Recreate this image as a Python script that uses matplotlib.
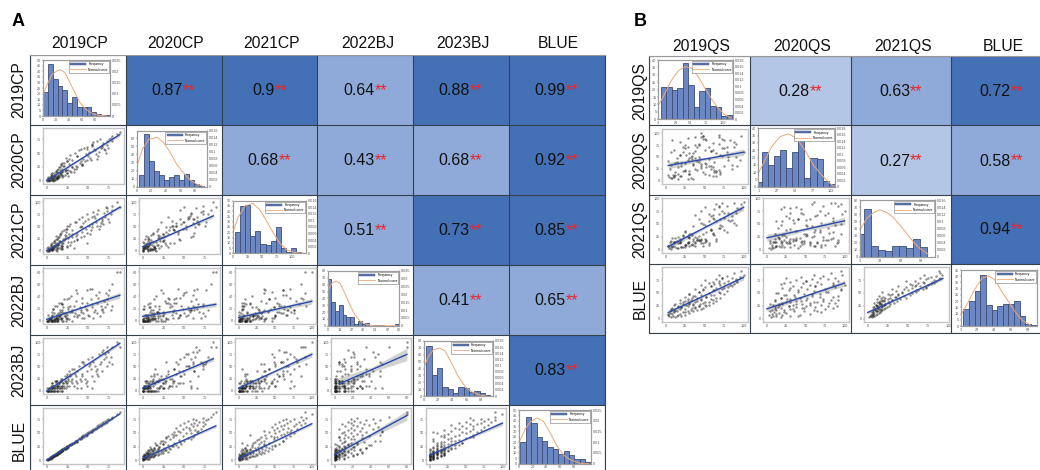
import matplotlib
matplotlib.use('Agg')
import matplotlib.pyplot as plt
import numpy as np
from matplotlib.colors import ListedColormap, BoundaryNorm
from matplotlib.lines import Line2D
from matplotlib.patches import Patch

plt.rcParams['font.family'] = ['Liberation Sans', 'DejaVu Sans']

W, H = 1040, 470

# correlation tables, None = plot cell
names_a = ['2019CP', '2020CP', '2021CP', '2022BJ', '2023BJ', 'BLUE']
names_b = ['2019QS', '2020QS', '2021QS', 'BLUE']
r_a = [[None, 0.87, 0.9, 0.64, 0.88, 0.99],
       [None, None, 0.68, 0.43, 0.68, 0.92],
       [None, None, None, 0.51, 0.73, 0.85],
       [None, None, None, None, 0.41, 0.65],
       [None, None, None, None, None, 0.83],
       [None, None, None, None, None, None]]
r_b = [[None, 0.28, 0.63, 0.72],
       [None, None, 0.27, 0.58],
       [None, None, None, 0.94],
       [None, None, None, None]]

# values per genotype
cp19 = [0,2,1,3,2,4,5,3,6,4, 7,5,8,6,9,6,7,10,8,11, 9,12,11,10,13,11,14,12,15,13,
        16,14,17,15,18,16,19,17,20,18, 22,19,23,21,24,23,26,25,29,27, 30,28,33,31,35,34,37,36,40,39,
        42,41,45,43,47,44,49,46,51,48, 53,50,55,52,57,54,59,56,61,58, 63,60,65,62,67,64,69,66,71,68,
        73,70,75,72,77,74,79,78,85,88,
        3,2,5,6,5,8,6,9,10,9, 12,10,13,12,14,15,14,16,17,16, 19,17,20,19,22,21,24,23,26,25, 28,27,31,33,36,35,41,43,48,54]
cp20 = [0,1,3,0,5,2,8,1,4,7, 2,12,3,9,1,14,5,10,2,18, 6,3,15,8,20,4,11,7,25,5,
        13,9,30,6,22,12,17,28,8,15, 10,33,19,26,14,42,20,35,16,30, 24,46,21,38,27,50,25,44,33,55,
        28,36,60,31,48,40,62,35,52,58, 38,45,66,42,57,63,48,70,40,56, 52,72,60,45,65,75,58,62,50,68,
        72,55,76,64,78,60,73,82,85,88,
        1,6,2,9,4,0,11,6,3,14, 7,2,16,5,22,9,4,19,11,24, 7,13,27,10,18,32,14,20,9,36, 17,40,24,15,45,22,58,28,38,65]
cp21 = [0,2,5,1,8,3,12,0,6,2, 15,4,10,1,18,7,3,22,5,12, 9,25,2,16,6,30,11,4,20,8,
        35,14,7,28,10,18,40,12,24,6, 32,15,45,22,9,38,26,50,18,34, 28,55,20,42,30,60,35,25,48,65,
        38,52,30,70,44,58,36,62,50,75, 42,66,55,35,72,48,60,80,52,68, 45,76,58,85,62,50,78,66,90,55,
        82,70,60,88,75,65,92,85,100,90,
        5,0,10,2,14,6,1,20,9,3, 24,7,0,16,28,5,12,32,3,20, 10,36,15,4,26,42,8,30,18,45, 12,50,34,5,22,60,28,48,16,70]
bj22 = [0,0,0,2,0,5,1,0,10,2, 0,5,0,15,1,8,0,3,20,5, 0,10,2,0,25,5,12,1,8,0,
        18,3,30,6,0,10,15,2,22,5, 8,28,0,12,35,5,20,10,40,3, 15,25,8,18,32,12,45,6,22,10,
        30,15,5,38,20,12,50,25,8,18, 35,10,28,52,15,22,42,5,30,18, 48,12,25,38,20,8,32,18,45,15,
        28,22,50,35,18,42,25,60,80,80,
        2,10,0,0,5,20,1,3,0,12, 5,25,0,8,2,30,0,15,5,10, 28,3,0,18,8,35,2,12,22,5, 15,38,0,25,10,50,18,5,30,52]
bj23 = [0,0,5,0,0,5,0,5,10,0, 5,0,10,5,0,15,5,0,10,20, 5,0,15,10,5,20,0,10,15,5,
        20,10,5,15,25,10,5,20,15,0, 30,10,20,5,35,15,25,10,20,40, 15,30,10,45,20,35,5,40,25,50,
        30,20,55,35,15,60,40,25,50,10, 45,65,30,55,20,70,40,60,35,50, 75,45,60,30,80,55,65,40,70,85,
        50,75,60,90,70,80,55,90,100,90,
        5,0,10,0,5,0,15,5,20,0, 10,5,0,20,10,5,15,0,20,5, 10,25,15,0,20,10,30,5,20,15, 35,10,25,45,15,30,5,60,20,5]
blue_a = [1,1,2,2,3,3,3,4,4,5, 5,6,6,6,7,7,8,8,9,9, 10,10,10,11,11,12,12,13,13,14,
          14,15,15,16,16,17,17,18,19,19, 20,21,21,22,23,24,25,26,27,28, 29,30,31,32,33,35,36,37,38,40,
          41,42,43,44,45,46,47,48,49,50, 51,52,53,54,55,56,57,58,59,60, 61,62,63,64,65,66,67,68,69,70,
          71,72,73,74,75,76,78,80,84,88,
          2,3,4,5,6,7,7,8,9,10, 11,11,12,13,13,14,15,15,16,17, 18,18,19,20,21,22,23,24,25,26, 27,28,30,32,34,36,39,42,46,52]
qs19 = [6,12,4,20,9,15,3,25,8,18, 30,5,22,10,35,14,28,7,40,12, 25,45,18,33,8,48,20,38,15,52,
        28,42,10,35,55,22,44,30,60,18, 38,50,25,65,32,45,58,28,70,40, 52,35,62,45,75,30,55,68,42,78,
        48,60,72,38,65,80,50,58,85,45, 70,62,88,55,75,92,60,68,80,50, 90,65,85,72,95,78,68,100,88,96,
        14,3,25,10,32,6,38,20,42,15, 50,26,35,12,48,30,22,55,40,28, 60,18,45,34,65,24,52,38,58,30, 70,42,62,48,75,58,82,68,90,72]
qs20 = [5,18,8,30,12,3,42,20,6,55, 15,25,70,9,35,48,4,60,22,12, 75,30,10,45,85,18,38,62,14,28,
        90,50,8,33,70,20,45,15,80,55, 25,65,38,10,50,92,30,72,18,42, 85,58,22,35,68,48,12,78,40,60,
        95,28,52,75,20,44,88,62,34,100, 55,18,70,46,85,30,65,92,50,38, 78,58,25,88,44,72,96,60,82,95,
        40,12,22,65,6,33,48,10,78,28, 15,55,4,38,88,20,60,30,72,44, 10,82,26,52,18,68,36,92,24,58, 14,76,40,95,30,62,85,22,50,68]
qs21 = [2,5,3,6,8,4,7,10,5,12, 8,14,6,15,10,16,12,7,18,14, 9,20,15,11,22,13,18,8,24,16,
        12,26,14,20,10,28,17,22,32,15, 25,14,36,20,30,18,40,25,48,22, 35,45,28,52,38,30,55,42,60,35,
        50,62,45,68,55,72,48,65,58,75, 60,78,52,70,62,80,68,85,58,82, 72,88,65,90,78,85,70,92,90,88,
        4,7,5,12,9,16,13,6,18,12, 20,10,16,22,8,14,26,12,18,15, 30,20,12,28,16,34,19,14,38,25, 42,18,60,30,72,38,55,82,48,75]
blue_b = [3,4,5,5,6,7,8,8,9,10, 11,11,12,13,14,14,15,16,16,17, 18,18,19,20,20,21,22,22,23,24,
          24,25,26,26,27,28,28,29,30,31, 32,33,34,35,36,37,38,39,40,41, 42,44,45,46,47,48,50,51,52,54,
          55,56,57,58,60,61,62,63,64,65, 66,67,68,69,70,71,72,73,74,75, 76,77,78,79,80,82,84,85,88,92,
          6,9,12,14,16,18,20,22,24,25, 26,27,28,29,30,31,32,33,34,35, 36,37,38,40,41,42,43,44,46,48, 50,52,55,58,60,63,66,70,74,78]

traits_a = [cp19, cp20, cp21, bj22, bj23, blue_a]
traits_b = [qs19, qs20, qs21, blue_b]
ticks_a = [[0,25,50,75], [0,25,50,75], [0,25,50,75,100], [0,20,40,60,80], [0,25,50,75,100], [0,25,50,75]]
ticks_b = [[0,25,50,75,100], [0,25,50,75,100], [0,25,50,75,100], [0,25,50,75]]

# fit lines: row, col, x0, y0, x1, y1, half width of grey band at the ends
lines_a = [(1,0, 0,0, 88,84, 3), (2,0, 0,0, 88,90, 3), (2,1, 0,8, 85,72, 4),
           (3,0, 0,2, 88,42, 5), (3,1, 0,7, 88,27, 4), (3,2, 0,5, 100,32, 5),
           (4,0, 0,-1, 88,98, 4), (4,1, 0,5, 85,66, 5), (4,2, 0,5, 100,75, 6), (4,3, 5,14, 80,75, 13),
           (5,0, 0,0, 88,85, 1), (5,1, 0,3, 88,63, 3), (5,2, 0,3, 100,67, 3), (5,3, 0,10, 80,82, 9), (5,4, 0,9, 100,68, 4)]
lines_b = [(1,0, 3,32, 100,60, 7), (2,0, 3,6, 100,82, 6), (2,1, 0,23, 100,56, 7),
           (3,0, 3,12, 100,80, 5), (3,1, 0,19, 100,69, 6), (3,2, 0,12, 93,78, 3)]

# histograms: counts per bar, then the normal curve as read (x, density)
h1_counts = [21,46,33,27,23,12,17,8,8,8,4,2,1,1]
h1_cx = [0,6.6,14,21.8,26.8,34.4,42,49.6,57,64.8,72.4,82.5,97.7]
h1_cy = [.009,.0139,.0184,.0202,.0207,.0192,.0147,.0102,.006,.0034,.0016,.0005,0]
h2_counts = [14,65,32,20,15,8,12,14,8,16,8,3,1]
h2_cx = [0,7.6,16.6,28,37,46,55,64,73,82,90.9]
h2_cy = [.0058,.0107,.0136,.0142,.0126,.0097,.0063,.0039,.0019,.0007,.0001]
h3_counts = [20,45,46,16,21,9,8,12,25,5,1,5,1]
h3_cx = [0,9.6,21,34,46,58,69,80,92,106,120]
h3_cy = [.0063,.0111,.0144,.0152,.0132,.0096,.0061,.003,.001,.0002,0]
h4_counts = [69,35,22,30,15,12,12,2,7,2,4,0,1,1,1,0,0,0,2]
h4_cx = [0,4.5,9.3,13.8,19.3,24.9,30.5,36.1,41.6,50.9,77]
h4_cy = [.0218,.0271,.0286,.0271,.0207,.0132,.0068,.003,.0011,0,0]
h5_counts = [73,30,41,13,10,4,13,11,6,8,5,1]
h5_cx = [0,6.7,14.5,23.8,32.6,43,53.4,63.7,74,87,97.4]
h5_cy = [.0094,.0129,.0151,.0157,.0148,.0107,.0063,.0031,.0014,.0003,0]
h6_counts = [20,43,38,25,21,15,14,9,12,8,4,4,1]
h6_cx = [.5,8.8,16,25.9,35.6,45.4,55,64.9,74.6,89.3,101.5]
h6_cy = [.01,.016,.0193,.0213,.0198,.0145,.0085,.004,.0018,.0001,0]
h7_counts = [22,22,20,21,38,23,8,19,21,9,8,2,3]
h7_cx = [3,13,23,33,43,53,63,73,83,93,103,113]
h7_cy = [.0041,.0079,.0119,.0147,.016,.0155,.0129,.0094,.0061,.0033,.0013,.0003]
h8_counts = [3,24,15,21,25,13,24,37,6,20,19,4,2]
h8_cx = [1,10.3,19.6,31.2,42.9,54.5,66.1,77.7,89.4,101,105.7]
h8_cy = [.0041,.0082,.0123,.0154,.0163,.0149,.0113,.0067,.0036,.001,.0003]
h9_counts = [32,68,16,10,8,16,15,12,25,14]
h9_cx = [3,12.8,22.5,32.3,42,51.8,61.5,71.3,81,90.8,103]
h9_cy = [.0076,.0109,.0125,.0133,.0126,.0112,.009,.0067,.0043,.0024,.0008]
h10_counts = [14,20,28,41,17,13,16,18,18,20,8,2,1]
h10_cx = [3,10.2,18.2,28.2,36.2,44.2,52.2,60.2,68.2,76.2,86.2]
h10_cy = [.0039,.0075,.0123,.017,.0179,.0164,.0123,.0087,.0051,.0021,.0004]


def px(l, t, r, b):
    return [l / W, 1 - b / H, (r - l) / W, (b - t) / H]


def small_ticks(ax):
    ax.tick_params(labelsize=2.7, length=0.8, width=0.3, pad=0.5, colors='#555555')


def heat(xe, ye, rows):
    ax = fig.add_axes(px(xe[0], ye[0], xe[-1], ye[-1]))
    vals = np.array([[np.nan if v is None else v for v in row] for row in rows])
    cmap = ListedColormap(['#B4C6E6', '#8FAAD8', '#4470B6'])
    norm = BoundaryNorm([0, 0.4, 0.7, 1], 3)
    ax.pcolormesh(np.arange(len(rows) + 1), np.arange(len(rows) + 1), vals, cmap=cmap, norm=norm)
    ax.set_xlim(0, len(rows))
    ax.set_ylim(len(rows), 0)
    ax.set_xticks(range(len(rows) + 1))
    ax.set_yticks(range(len(rows) + 1))
    ax.grid(True, color='#37414E', lw=0.8)
    ax.tick_params(length=0, labelbottom=False, labelleft=False)
    for s in ax.spines.values():
        s.set_color('#37414E')
        s.set_linewidth(0.8)
    ax.spines['top'].set_color('#999999')
    for i, row in enumerate(rows):
        for j, v in enumerate(row):
            if v is None:
                continue
            cx = (xe[j] + xe[j + 1]) / 2
            cy = (ye[i] + ye[i + 1]) / 2
            t = fig.text((cx - 6.5) / W, 1 - (cy + 0.5) / H, f'{v:g}', fontsize=11.5, color='#111111',
                         ha='center', va='center', zorder=10)
            ax.annotate('**', xy=(1, 0), xycoords=t, ha='left', va='bottom', fontsize=11.5,
                        color='#E8262D', annotation_clip=False, zorder=11)


def scatter_panel(rect, xv, yv, xt, yt, line):
    ax = fig.add_axes(px(*rect))
    x0, y0, x1, y1, band = line
    mid = (x0 + x1) / 2
    xs = [x0, mid, x1]
    ys = [y0, (y0 + y1) / 2, y1]
    half = [band, band * 0.4, band]
    ax.fill_between(xs, np.array(ys) - half, np.array(ys) + half, color='#D2D2D2', lw=0, zorder=1)
    ax.scatter(xv, yv, s=3.0, color='#1C1C1C', alpha=0.5, lw=0, zorder=2)
    ax.plot([x0, x1], [y0, y1], color='#2B4BAA', lw=1.0, zorder=3)
    ax.set_xlim(-0.05 * max(xv), 1.05 * max(xv))
    ax.set_ylim(-0.07 * max(yv), 1.1 * max(yv))
    ax.set_xticks(xt)
    ax.set_yticks(yt)
    small_ticks(ax)
    for s in ax.spines.values():
        s.set_color('#C4C4C4')
        s.set_linewidth(1.0)


def hist_panel(rect, counts, start, width, xlim, xt, ymax, ystep, rmax, rstep, cx, cy, right_labels=True):
    ax = fig.add_axes(px(*rect))
    lefts = [start + k * width for k in range(len(counts))]
    ax.bar(lefts, counts, width=width, align='edge', color='#6C88C4', edgecolor='#3D4C73', lw=0.6)
    ax.set_ylim(0, ymax)
    ax.set_xticks(xt)
    ax.set_yticks(np.arange(0, ymax + 0.1, ystep))
    small_ticks(ax)
    ax2 = ax.twinx()
    ax2.plot(cx, cy, color='#EDA878', lw=0.7)
    ax2.set_ylim(0, rmax)
    ax2.set_xlim(*xlim)
    ax2.set_yticks(np.arange(0, rmax + 1e-6, rstep))
    ax2.set_yticklabels([f'{v:g}' for v in np.arange(0, rmax + 1e-6, rstep)])
    small_ticks(ax2)
    if not right_labels:
        ax2.tick_params(labelright=False)
    handles = [Patch(facecolor='#5B76B0', edgecolor='#3D4C73', lw=0.3, label='Frequency'),
               Line2D([], [], color='#EDA878', lw=0.6, label='Normal curve')]
    leg = ax2.legend(handles=handles, loc='upper right', fontsize=2.3, fancybox=False, edgecolor='#777777',
                     framealpha=1, borderaxespad=0.3, handlelength=5, handleheight=0.5, borderpad=0.4, labelspacing=0.4)
    leg.get_frame().set_linewidth(0.4)
    for a in (ax, ax2):
        for s in a.spines.values():
            s.set_color('#9C9C9C')
            s.set_linewidth(0.8)


fig = plt.figure(figsize=(W / 100, H / 100), dpi=100)

xe_a = [30, 126, 222, 318, 413, 508.5, 604.5]
ye_a = [55, 125, 195, 265, 335, 405, 475]
xe_b = [649, 750, 851, 951, 1052]
ye_b = [56, 126, 195, 264, 333]

heat(xe_a, ye_a, r_a)
heat(xe_b, ye_b, r_b)

for lines, xe, ye, traits, ticks in [(lines_a, xe_a, ye_a, traits_a, ticks_a), (lines_b, xe_b, ye_b, traits_b, ticks_b)]:
    for i, j, x0, y0, x1, y1, band in lines:
        bottom = ye[i + 1] - 11 if i < 5 else 463.5
        rect = (xe[j] + 13, ye[i] + 2.5, xe[j + 1] - 2.5, bottom)
        scatter_panel(rect, traits[j], traits[i], ticks[j], ticks[i], (x0, y0, x1, y1, band))

hist_panel((42.7, 60, 110, 116), h1_counts, 0.5, 7.4, (0, 103), [0,20,40,60,80], 50, 5, .025, .005, h1_cx, h1_cy)
hist_panel((136.7, 131, 206.7, 186.7), h2_counts, 3.6, 6.8, (0, 95.4), [0,20,40,60,80], 69, 10, .016, .002, h2_cx, h2_cy)
hist_panel((232.7, 200.7, 306, 253.3), h3_counts, 4.5, 8.5, (0, 124), [0,25,50,75,100], 50, 5, .016, .002, h3_cx, h3_cy)
hist_panel((327.7, 271, 399.3, 325.7), h4_counts, 0, 4.2, (0, 80), [0,13,27,40,53,67,80], 80, 10, .035, .005, h4_cx, h4_cy)
hist_panel((424, 341, 492.7, 396), h5_counts, 3.6, 8.3, (0, 106.7), [0,22,44,66,88], 80, 10, .018, .002, h5_cx, h5_cy)
hist_panel((519, 410, 591, 463.5), h6_counts, 2, 7.9, (0, 105.4), [0,20,40,60,80], 50, 5, .025, .005, h6_cx, h6_cy)
hist_panel((658.3, 60, 733.3, 119.3), h7_counts, 7, 8.2, (3, 115.5), [3,29,51,75,100], 40, 5, .018, .002, h7_cx, h7_cy)
hist_panel((758.3, 128.3, 835, 186.7), h8_counts, -1.8, 8.4, (1, 108), [1,27,52,77,102], 40, 5, .018, .002, h8_cx, h8_cy)
hist_panel((860, 200.3, 935, 257), h9_counts, -1.3, 10.2, (3, 113), [3,33,63,93], 80, 10, .016, .002, h9_cx, h9_cy)
hist_panel((960.7, 270, 1036.7, 326), h10_counts, 6.2, 6.75, (3, 94), [3,23,43,63,83], 45, 5, .02, .005, h10_cx, h10_cy, right_labels=False)

# headers and panel letters
for names, xe, ye, rx, hy in [(names_a, xe_a, ye_a, 19, 44), (names_b, xe_b, ye_b, 640, 46.5)]:
    for k, name in enumerate(names):
        fig.text(((xe[k] + xe[k + 1]) / 2 + 2) / W, 1 - hy / H, name, fontsize=11.3, color='#111111', ha='center', va='center')
        fig.text(rx / W, 1 - ((ye[k] + ye[k + 1]) / 2) / H, name, fontsize=11.3, color='#111111', rotation=90, ha='center', va='center')
fig.text(12 / W, 1 - 22 / H, 'A', fontsize=13, fontweight='bold', ha='left', va='center')
fig.text(634 / W, 1 - 22 / H, 'B', fontsize=13, fontweight='bold', ha='left', va='center')

fig.savefig('out.png', dpi=100)
